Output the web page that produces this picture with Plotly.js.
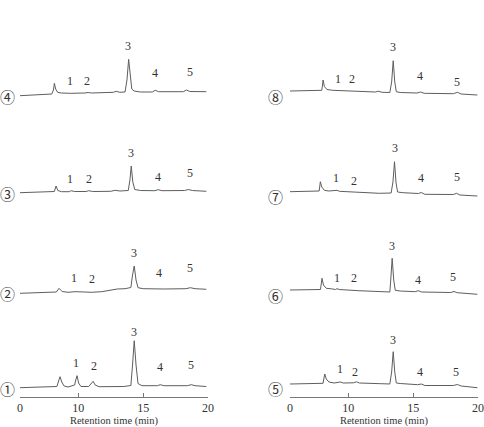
<!DOCTYPE html>
<html>
<head>
<meta charset="utf-8">
<script src="https://cdn.plot.ly/plotly-3.0.1.min.js"></script>
<style>
  html, body { margin: 0; padding: 0; background: #fff; }
  #chart { width: 484px; height: 427px; }
</style>
</head>
<body>
<div id="chart"></div>
<script>
// Retention times (min) and detector signal (arbitrary units) for each run.
// Left column: runs 1-4, right column: runs 5-8.
const t1 = [5.5, 7.8, 8.35, 8.5, 8.59, 8.72, 8.9, 9.2, 9.72, 9.78, 9.9, 10.02, 10.2, 10.8, 11.0, 11.14, 11.3, 11.6, 13.5, 14.05, 14.18, 14.31, 14.45, 14.6, 14.9, 16.1, 16.32, 16.6, 18.4, 18.71, 19.0, 19.87];
const s1 = [0.3, 0.7, 1.5, 8, 11.3, 6, 2, 1, 3, 7, 12.3, 5, 1.5, 1.5, 4, 6.7, 3, 1.3, 1.5, 2.5, 23, 47.3, 23, 4.5, 2.3, 2.3, 3.3, 2.3, 2.3, 3.3, 2.3, 1.5];

const t2 = [5.5, 7.5, 8.3, 8.51, 8.75, 9.2, 9.75, 10.5, 11.0, 11.8, 12.5, 13.0, 13.6, 14.05, 14.18, 14.31, 14.45, 14.6, 15.0, 16.0, 16.3, 16.6, 18.3, 18.64, 19.0, 19.87];
const s2 = [-0.3, 0.5, 1, 4.7, 1.5, 0.7, 1.3, 1, 0.7, 1.3, 3, 4, 4.3, 5.5, 18, 27, 13, 5.3, 4.3, 4, 4.5, 4, 4.3, 5.3, 4.3, 3.7];

const t3 = [5.5, 7.8, 8.15, 8.28, 8.42, 8.7, 9.3, 9.45, 9.7, 10.6, 10.8, 11.1, 12.5, 12.84, 13.2, 13.85, 13.98, 14.08, 14.2, 14.35, 14.8, 15.9, 16.16, 16.45, 18.2, 18.48, 18.8, 19.87];
const s3 = [0.3, 1, 1.5, 7, 2.5, 1.3, 1.3, 2.3, 1.5, 1.5, 2.3, 1.5, 1.7, 2.7, 2, 2.5, 13, 27, 11, 3.5, 2.5, 2.3, 3.3, 2.3, 2.5, 3.5, 2.5, 1.7];

const t4 = [5.5, 6.5, 7.5, 7.95, 8.08, 8.15, 8.25, 8.4, 8.7, 9.4, 10.5, 10.76, 11.0, 12.0, 12.7, 12.92, 13.2, 13.6, 13.75, 13.88, 14.0, 14.12, 14.3, 14.8, 15.7, 15.93, 16.2, 17.5, 18.1, 18.33, 18.6, 19.87];
const s4 = [0.3, 0.7, 1.5, 2, 6, 12.7, 7, 3.7, 3, 2.7, 3, 3.5, 3, 3.3, 3.7, 4.7, 3.7, 4, 16, 36.7, 18, 7, 5, 4, 4, 5.7, 4.3, 4, 4.3, 6, 4.5, 4.3];

const t5 = [5.5, 7.8, 8.05, 8.12, 8.18, 8.3, 8.5, 8.9, 9.2, 9.39, 9.6, 10.4, 10.62, 10.85, 12.5, 13.2, 13.34, 13.46, 13.58, 13.7, 14.0, 15.35, 15.62, 15.9, 18.1, 18.41, 18.7, 19.95];
const s5 = [4, 4.3, 4.7, 10, 14, 9, 6, 5, 5.2, 6, 5, 5.2, 6.2, 5, 4.3, 4, 16, 36.3, 16, 5, 4.5, 3.3, 4, 2.5, 2.5, 3.5, 2, 0.3];

const t6 = [5.5, 7.6, 7.85, 7.92, 7.97, 8.08, 8.3, 8.8, 9.0, 9.13, 9.3, 10.8, 12.5, 13.2, 13.27, 13.38, 13.5, 13.62, 14.0, 15.15, 15.39, 15.65, 17.9, 18.15, 18.4, 19.95];
const s6 = [5, 5.3, 5.5, 12, 16.7, 10, 6.7, 6, 5.5, 6.3, 5.5, 4.3, 3.3, 3, 15, 36.7, 15, 4.7, 4, 3.3, 4.3, 3, 2.5, 3.5, 2.3, 0.7];

const t7 = [5.5, 7.5, 7.75, 7.8, 7.84, 7.95, 8.15, 8.5, 9.0, 9.13, 9.3, 10.8, 12.4, 13.3, 13.44, 13.56, 13.68, 13.8, 14.2, 15.4, 15.62, 15.9, 18.1, 18.35, 18.6, 19.95];
const s7 = [4.3, 4.5, 5, 10, 14.3, 9, 5.7, 5, 5, 5.7, 4.7, 3.7, 2.7, 3, 14, 34.3, 13, 4, 3.3, 2.5, 3.5, 1.7, 1.5, 2.7, 1, 0];

const t8 = [5.5, 7.5, 7.95, 8.0, 8.05, 8.15, 8.35, 8.8, 10.0, 11.5, 12.1, 12.3, 12.6, 13.2, 13.34, 13.46, 13.58, 13.7, 14.0, 15.3, 15.57, 15.85, 18.1, 18.41, 18.7, 19.95];
const s8 = [5, 5.3, 5.7, 10, 16, 9.5, 6.5, 5.7, 5.3, 4.5, 4, 4.8, 3.7, 3.5, 14, 35.3, 14, 4.3, 3.5, 3, 4, 2.7, 2.3, 3.7, 2, 1];

// Peak numbers and where their labels sit (time, signal) for each run
const peakNames = ['1', '2', '3', '4', '5'];
const labT1 = [9.83, 11.22, 14.31, 16.32, 18.71], labS1 = [25.3, 22.3, 56.3, 21.3, 23];
const labT2 = [9.67, 11.06, 14.31, 16.24, 18.64], labS2 = [15, 14, 40.3, 20, 25.3];
const labT3 = [9.36, 10.83, 14.08, 16.16, 18.64], labS3 = [14, 14, 40, 16, 20];
const labT4 = [9.36, 10.68, 13.85, 15.93, 18.64], labS4 = [15, 15, 50, 23, 24];
const labT5 = [9.34, 10.55, 13.46, 15.52, 18.27], labS5 = [18.7, 16.3, 48, 16.3, 16.3];
const labT6 = [9.13, 10.47, 13.38, 15.39, 18.1], labS6 = [16.7, 16.7, 49.3, 15, 18.3];
const labT7 = [9.05, 10.42, 13.56, 15.62, 18.35], labS7 = [17.7, 15.3, 47.7, 17.7, 19.3];
const labT8 = [9.21, 10.29, 13.44, 15.49, 18.41], labS8 = [16.7, 16.7, 49.3, 20, 14.3];

const runNames = ['①', '②', '③', '④', '⑤', '⑥', '⑦', '⑧'];

// Axis ticks: the time axis is drawn with a break, so "0" sits at the start
const tickVals = [5.5, 10, 15, 20];
const tickText = ['0', '10', '15', '20'];

const W = 484, H = 427;
const px = x => x / W;
const py = y => 1 - y / H;

const runs = [
  {t: t1, s: s1, lt: labT1, ls: labS1, col: 0, base: 388},
  {t: t2, s: s2, lt: labT2, ls: labS2, col: 0, base: 293},
  {t: t3, s: s3, lt: labT3, ls: labS3, col: 0, base: 193},
  {t: t4, s: s4, lt: labT4, ls: labS4, col: 0, base: 96},
  {t: t5, s: s5, lt: labT5, ls: labS5, col: 1, base: 388},
  {t: t6, s: s6, lt: labT6, ls: labS6, col: 1, base: 295},
  {t: t7, s: s7, lt: labT7, ls: labS7, col: 1, base: 196},
  {t: t8, s: s8, lt: labT8, ls: labS8, col: 1, base: 96}
];

const lineColor = '#5e5e5e';
const textColor = '#333333';
const serif = '"Liberation Serif", "DejaVu Serif", serif';

const traces = [];
const annotations = [];
const layout = {
  width: W, height: H,
  margin: {l: 0, r: 0, t: 0, b: 0},
  paper_bgcolor: '#fff', plot_bgcolor: 'rgba(0,0,0,0)',
  showlegend: false,
  font: {family: serif, color: textColor}
};

const xAxisBase = {
  range: [5.5, 20],
  anchor: 'free',
  position: py(397),
  showgrid: false, zeroline: false,
  showline: true, linecolor: '#777', linewidth: 1,
  ticks: 'inside', ticklen: 4, tickcolor: '#777', tickwidth: 1,
  tickvals: tickVals, ticktext: tickText,
  tickfont: {family: serif, size: 12, color: textColor},
  title: {text: 'Retention time (min)', font: {family: serif, size: 10.5, color: textColor}, standoff: 3},
  fixedrange: true
};
layout.xaxis = Object.assign({}, xAxisBase, {domain: [px(20), px(208)]});
layout.xaxis2 = Object.assign({}, xAxisBase, {domain: [px(290), px(478)]});

runs.forEach((r, i) => {
  const yName = i === 0 ? 'y' : 'y' + (i + 1);
  const yKey = i === 0 ? 'yaxis' : 'yaxis' + (i + 1);
  const xName = r.col === 0 ? 'x' : 'x2';
  layout[yKey] = {
    domain: [py(r.base + 5), py(r.base - 60)],
    range: [-5, 60],
    visible: false,
    anchor: xName,
    fixedrange: true
  };
  traces.push({
    type: 'scatter', mode: 'lines',
    x: r.t, y: r.s,
    xaxis: xName, yaxis: yName,
    line: {color: lineColor, width: 1},
    hoverinfo: 'skip'
  });
  peakNames.forEach((name, k) => {
    annotations.push({
      xref: xName, yref: yName,
      x: r.lt[k], y: r.ls[k],
      text: name, showarrow: false,
      xanchor: 'center', yanchor: 'middle',
      font: {family: serif, size: 12, color: textColor}
    });
  });
  annotations.push({
    xref: 'paper', yref: yName,
    x: r.col === 0 ? px(0) : px(268),
    y: 0,
    text: runNames[i], showarrow: false,
    xanchor: 'left', yanchor: 'middle',
    xshift: -2,
    font: {family: '"Noto Sans CJK JP", "DejaVu Sans", sans-serif', size: 15, color: textColor}
  });
});

layout.annotations = annotations;

Plotly.newPlot('chart', traces, layout, {staticPlot: true, displayModeBar: false});
</script>
</body>
</html>
